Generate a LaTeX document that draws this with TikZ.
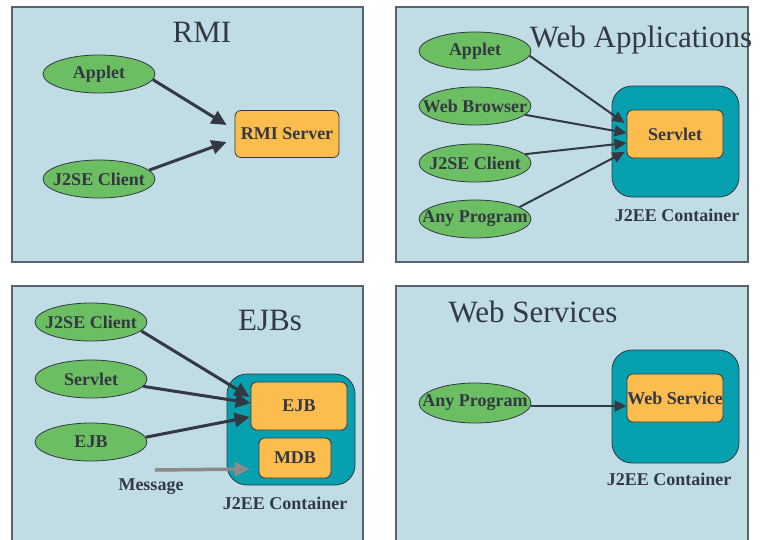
\documentclass[tikz,border=0pt]{standalone}
\usepackage{fontspec}
\setmainfont{Liberation Serif}
\usetikzlibrary{shapes.geometric,arrows.meta,calc}

\definecolor{panelbg}{HTML}{C0DDE5}
\definecolor{panelline}{HTML}{5A6270}
\definecolor{ink}{HTML}{333843}
\definecolor{clientgreen}{HTML}{6BBF62}
\definecolor{boxorange}{HTML}{FDBD4E}
\definecolor{contteal}{HTML}{07A0AE}
\definecolor{msggray}{HTML}{8E8A8A}

% zero-width text so the ellipse keeps its fixed size
\newcommand{\fixedlabel}[1]{\makebox[0pt]{#1}}

\tikzset{
  panel/.style={fill=panelbg, draw=panelline, line width=1.2pt},
  title/.style={text=ink, font=\fontsize{31}{34}\selectfont, inner sep=0pt},
  client/.style={ellipse, fill=clientgreen, draw=ink, line width=0.8pt,
    minimum width=112pt, minimum height=38pt, inner sep=0pt,
    text=ink, font=\bfseries\fontsize{18}{20}\selectfont},
  compbox/.style={rectangle, rounded corners=6pt, fill=boxorange, draw=ink,
    line width=0.8pt, inner sep=0pt, text=ink,
    font=\bfseries\fontsize{18}{20}\selectfont},
  container/.style={rectangle, rounded corners=20pt, fill=contteal, draw=ink,
    line width=0.8pt, inner sep=0pt},
  caption/.style={text=ink, inner sep=0pt, font=\bfseries\fontsize{18}{20}\selectfont},
  heavyarrow/.style={draw=ink, line width=3pt, -{Triangle[length=15pt,width=14pt]}},
  lightarrow/.style={draw=ink, line width=2pt, -{Triangle[length=12pt,width=11pt]}},
  msgarrow/.style={draw=msggray, line width=3.5pt, -{Triangle[length=15pt,width=14pt]}}
}

\begin{document}
\begin{tikzpicture}[x=1pt,y=-1pt]
\clip (0,0) rectangle (760,539);
\fill[white] (0,0) rectangle (760,539);

% ---------- RMI ----------
\draw[panel] (12,7) rectangle (363,262);
\node[title] (rmititle) at (202,32) {RMI};
\node[client] (rmiapplet) at (99,74) {\fixedlabel{Applet}};
\node[client] (rmiclient) at (99,179) {\fixedlabel{J2SE Client}};
\node[compbox, minimum width=104pt, minimum height=47pt] (rmiserver) at (287,134) {RMI Server};
\draw[heavyarrow] (rmiapplet.-6) -- ([shift={(-8,-9)}]rmiserver.west);
\draw[heavyarrow] (rmiclient.10) -- ([shift={(-8,8)}]rmiserver.west);

% ---------- Web Applications ----------
\draw[panel] (396,7) rectangle (748,262);
\node[title] (webtitle) at (641,40) {Web Applications};
\node[client] (waapplet) at (475,51) {\fixedlabel{Applet}};
\node[client] (wabrowser) at (475,106) {\fixedlabel{Web Browser}};
\node[client] (waclient) at (475,163) {\fixedlabel{J2SE Client}};
\node[client] (waany) at (475,219) {\fixedlabel{Any Program}};
\node[container, minimum width=127pt, minimum height=111pt] (wacont) at (675.5,141.5) {};
\node[compbox, minimum width=96pt, minimum height=48pt] (servlet) at (675,134) {Servlet};
\node[caption] (wacontlabel) at (677,215) {J2EE Container};
\draw[lightarrow] (waapplet.-5) -- ([shift={(-2,-11)}]servlet.west);
\draw[lightarrow] (wabrowser.-10) -- ([shift={(0,-1)}]servlet.west);
\draw[lightarrow] (waclient.10) -- ([shift={(0,9)}]servlet.west);
\draw[lightarrow] (waany.15) -- ([shift={(-2,18)}]servlet.west);

% ---------- EJBs ----------
\draw[panel] (12,286) rectangle (363,560);
\node[title] (ejbtitle) at (270,320) {EJBs};
\node[client] (ejbclient) at (91,322) {\fixedlabel{J2SE Client}};
\node[client] (ejbservlet) at (91,379) {\fixedlabel{Servlet}};
\node[client] (ejbejb) at (91,442) {\fixedlabel{EJB}};
\node[container, minimum width=128pt, minimum height=111pt] (ejbcont) at (291,429.5) {};
\node[compbox, minimum width=96pt, minimum height=48pt] (ejbbox) at (299,406) {EJB};
\node[compbox, minimum width=72pt, minimum height=40pt] (mdb) at (295,458) {MDB};
\node[caption] (ejbcontlabel) at (285,503) {J2EE Container};
\draw[heavyarrow] (ejbclient.-10) -- ([shift={(-1,-9)}]ejbbox.west);
\draw[heavyarrow] (ejbservlet.-8) -- ([shift={(0,-3)}]ejbbox.west);
\draw[heavyarrow] (ejbejb.5) -- ([shift={(-1,11)}]ejbbox.west);
\coordinate (msgsource) at (155,470);
\draw[msgarrow] (msgsource) -- ([shift={(-9,11)}]mdb.west);
\node[caption] (msglabel) at (151,487) {Message};

% ---------- Web Services ----------
\draw[panel] (396,286) rectangle (748,560);
\node[title] (wstitle) at (533,312) {Web Services};
\node[client, minimum height=40pt] (wsany) at (475,403) {\fixedlabel{Any Program}};
\node[container, minimum width=127pt, minimum height=113pt] (wscont) at (675.5,406.5) {};
\node[compbox, minimum width=96pt, minimum height=48pt] (wsbox) at (675,398) {Web Service};
\node[caption] (wscontlabel) at (669,479) {J2EE Container};
\draw[lightarrow] ([shift={(0,3)}]wsany.east) -- ([shift={(0,8)}]wsbox.west);
\end{tikzpicture}
\end{document}
